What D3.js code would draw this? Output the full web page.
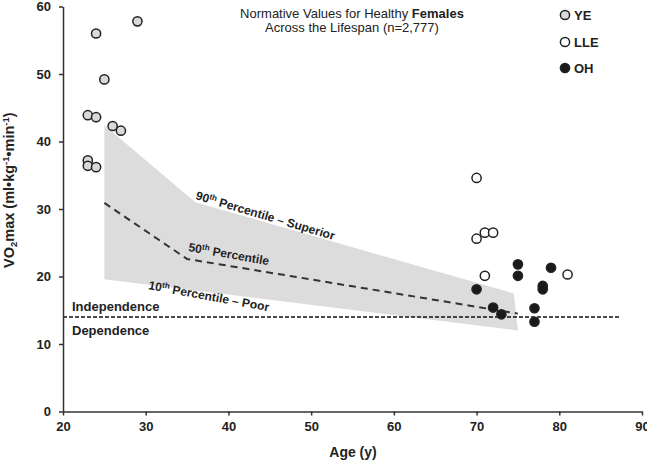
<!DOCTYPE html>
<html>
<head>
<meta charset="utf-8">
<script src="https://cdn.jsdelivr.net/npm/d3@7"></script>
<style>
  body { margin: 0; background: #fff; }
  svg { font-family: "Liberation Sans", Arial, sans-serif; }
  .axis path, .axis line { stroke: #333; stroke-width: 1.5; }
  .axis text { font-size: 13px; font-weight: bold; fill: #222; }
</style>
</head>
<body>
<script>
// Age (y), VO2max values
const yeAge = [23, 23, 23, 24, 24, 24, 25, 26, 27, 29];
const yeVo2 = [43.9, 37.2, 36.4, 56.0, 43.6, 36.2, 49.2, 42.3, 41.6, 57.8];
const lleAge = [70, 70, 71, 72, 71, 81];
const lleVo2 = [34.6, 25.6, 26.5, 26.5, 20.1, 20.3];
const ohAge = [70, 72, 73, 75, 75, 77, 77, 78, 78, 79];
const ohVo2 = [18.1, 15.4, 14.4, 21.8, 20.1, 15.3, 13.3, 18.6, 18.1, 21.3];

// percentile curves
const p90 = [[25, 42.4], [36, 31.0], [74.5, 17.5]];
const p50 = [[25, 30.9], [35, 22.6], [75, 14.5]];
const p10 = [[25, 19.6], [75, 12.0]];
const threshold = 14;
const thresholdEnd = 87.4;

const xTicks = [20, 30, 40, 50, 60, 70, 80, 90];
const yTicks = [0, 10, 20, 30, 40, 50, 60];

const width = 647, height = 462;

let svg = d3.select("body").append("svg")
    .attr("width", width)
    .attr("height", height);

const x = d3.scaleLinear().domain([20, 90]).range([63, 642]);
const y = d3.scaleLinear().domain([0, 60]).range([411.5, 6.5]);

// shaded band between 10th and 90th
const bandPts = p90.concat(p10.slice().reverse());
svg.append("path")
    .attr("d", d3.line().x(d => x(d[0])).y(d => y(d[1]))(bandPts) + "Z")
    .attr("fill", "#dcdcdc");

// 50th percentile
svg.append("path")
    .attr("d", d3.line().x(d => x(d[0])).y(d => y(d[1]))(p50))
    .attr("fill", "none")
    .attr("stroke", "#333")
    .attr("stroke-width", 2)
    .attr("stroke-dasharray", "7,5");

// independence threshold
svg.append("line")
    .attr("x1", x(20)).attr("x2", x(thresholdEnd))
    .attr("y1", y(threshold)).attr("y2", y(threshold))
    .attr("stroke", "#111")
    .attr("stroke-width", 1.5)
    .attr("stroke-dasharray", "4,2");

svg.append("text").attr("x", 72).attr("y", 310.5)
    .attr("font-size", 13).attr("font-weight", "bold").attr("fill", "#222")
    .text("Independence");
svg.append("text").attr("x", 72).attr("y", 335)
    .attr("font-size", 13).attr("font-weight", "bold").attr("fill", "#222")
    .text("Dependence");

// percentile labels
function pctLabel(px, py, angle, num, rest) {
    let t = svg.append("text")
        .attr("transform", `translate(${px},${py}) rotate(${angle})`)
        .attr("font-size", 12).attr("font-weight", "bold").attr("fill", "#222");
    t.append("tspan").text(num);
    t.append("tspan").attr("font-size", 8).attr("dy", -4).text("th");
    t.append("tspan").attr("dy", 4).text(rest);
}
pctLabel(195, 199, 16.5, "90", " Percentile \u2013 Superior");
pctLabel(188, 251, 10, "50", " Percentile");
pctLabel(148, 289, 10.5, "10", " Percentile \u2013 Poor");

// axes
svg.append("g")
    .attr("class", "axis")
    .attr("transform", `translate(0,${y(0)})`)
    .call(d3.axisBottom(x).tickValues(xTicks).tickSize(4).tickPadding(6).tickSizeOuter(0));

svg.append("g")
    .attr("class", "axis")
    .attr("transform", `translate(${x(20)},0)`)
    .call(d3.axisLeft(y).tickValues(yTicks).tickSize(4).tickPadding(8).tickSizeOuter(0));

// points
function drawPoints(ages, vals, fill) {
    svg.append("g").selectAll("circle")
        .data(ages)
        .join("circle")
        .attr("cx", (d) => x(d))
        .attr("cy", (d, i) => y(vals[i]))
        .attr("r", 4.6)
        .attr("fill", fill)
        .attr("stroke", "#222")
        .attr("stroke-width", 1.5);
}
drawPoints(yeAge, yeVo2, "#d9d9d9");
drawPoints(lleAge, lleVo2, "#fff");
drawPoints(ohAge, ohVo2, "#1a1a1a");

// title
let title = svg.append("text")
    .attr("x", 352).attr("y", 18)
    .attr("text-anchor", "middle")
    .attr("font-size", 13).attr("fill", "#222");
title.append("tspan").text("Normative Values for Healthy ");
title.append("tspan").attr("font-weight", "bold").text("Females");
svg.append("text")
    .attr("x", 352).attr("y", 32)
    .attr("text-anchor", "middle")
    .attr("font-size", 13).attr("fill", "#222")
    .text("Across the Lifespan (n=2,777)");

// legend
const legendNames = ["YE", "LLE", "OH"];
const legendFills = ["#d9d9d9", "#fff", "#1a1a1a"];
const legendY = [15, 42, 68];
legendNames.forEach((n, i) => {
    svg.append("circle")
        .attr("cx", 565).attr("cy", legendY[i]).attr("r", 4.6)
        .attr("fill", legendFills[i]).attr("stroke", "#222").attr("stroke-width", 1.5);
    svg.append("text")
        .attr("x", 574).attr("y", legendY[i] + 4.5)
        .attr("font-size", 13).attr("font-weight", "bold").attr("fill", "#222")
        .text(n);
});

// axis titles
svg.append("text")
    .attr("x", 353).attr("y", 457)
    .attr("text-anchor", "middle")
    .attr("font-size", 14).attr("font-weight", "bold").attr("fill", "#222")
    .text("Age (y)");

let yt = svg.append("text")
    .attr("transform", "translate(14,268) rotate(-90)")
    .attr("font-size", 14.5).attr("font-weight", "bold").attr("fill", "#222");
yt.append("tspan").text("VO");
yt.append("tspan").attr("font-size", 9.5).attr("dy", 3).text("2");
yt.append("tspan").attr("dy", -3).text("max (ml\u2022kg");
yt.append("tspan").attr("font-size", 9.5).attr("dy", -5).text("-1");
yt.append("tspan").attr("dy", 5).text("\u2022min");
yt.append("tspan").attr("font-size", 9.5).attr("dy", -5).text("-1");
yt.append("tspan").attr("dy", 5).text(")");
</script>
</body>
</html>
